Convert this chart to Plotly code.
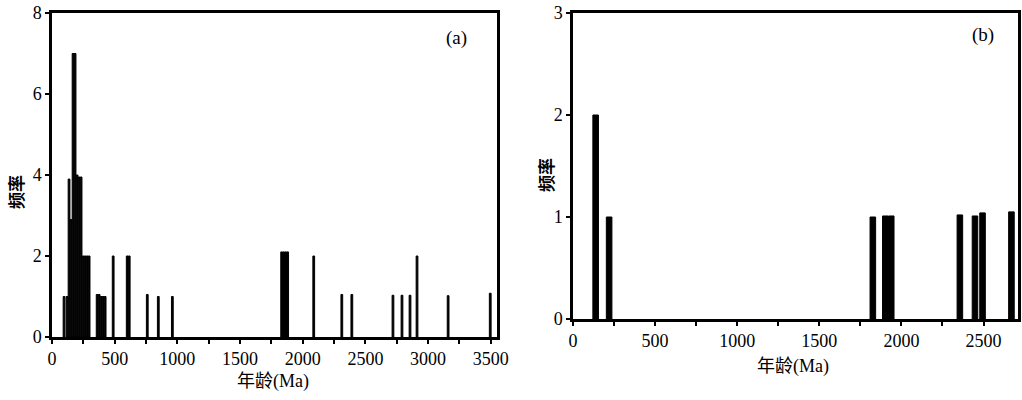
import plotly.graph_objects as go

# ---- Data: panel (a) ----
ages_a = [96, 120, 136, 152, 168, 184, 200, 216, 232, 248, 264, 280, 296,
          360, 376, 392, 408, 424, 488, 600, 616, 760, 848, 960,
          1832, 1848, 1864, 1880, 2088, 2312, 2392, 2720, 2792, 2856, 2912,
          3160, 3496]
freq_a = [1, 1, 3.9, 2.9, 7, 7, 4, 3.95, 3.95, 2, 2, 2, 2,
          1.05, 1.05, 1, 1, 1, 2, 2, 2, 1.05, 1, 1,
          2.1, 2.1, 2.1, 2.1, 2, 1.05, 1.05, 1.03, 1.03, 1.03, 2,
          1.02, 1.08]

# ---- Data: panel (b) ----
ages_b = [138, 220, 1826, 1902, 1938, 2356, 2448, 2494, 2670]
freq_b = [2, 1, 1.0, 1.01, 1.01, 1.02, 1.01, 1.04, 1.05]

xticks_a = list(range(0, 3501, 250))
xticks_b = list(range(0, 2501, 250))
yticks_a = [0, 2, 4, 6, 8]
yticks_b = [0, 1, 2, 3]

xlabel = "年龄(Ma)"
ylabel = "频率"

FONT = "Liberation Serif, Times New Roman, Noto Sans CJK SC, serif"
CJK = "Liberation Serif, Noto Sans CJK SC, sans-serif"

W, H = 1022, 400
L, R, T, B = 52, 4, 13, 63
PW, PH = W - L - R, H - T - B


def px(x):
    return (x - L) / PW


def py(y):
    return (H - B - y) / PH


fig = go.Figure()
fig.add_trace(go.Bar(x=ages_a, y=freq_a, width=14,
                     marker=dict(color="black", line=dict(width=1, color="black")),
                     xaxis="x", yaxis="y", showlegend=False))
fig.add_trace(go.Bar(x=ages_b, y=freq_b, width=34,
                     marker=dict(color="black", line=dict(width=1, color="black")),
                     xaxis="x2", yaxis="y2", showlegend=False))


def ticktext(vals):
    return [str(v) if v % 500 == 0 else "" for v in vals]


axis_common = dict(showgrid=False, zeroline=False, showline=True, linecolor="black",
                   linewidth=2.5, mirror=True, ticks="outside", ticklen=4, tickwidth=1.5,
                   tickcolor="black", automargin=False,
                   tickfont=dict(family=FONT, size=18, color="black"))

fig.update_layout(
    width=W, height=H,
    margin=dict(l=L, r=R, t=T, b=B, autoexpand=False),
    paper_bgcolor="white", plot_bgcolor="white",
    barmode="overlay",
    xaxis=dict(domain=[px(52), px(497)], range=[0, 3550], tickmode="array",
               tickvals=xticks_a, ticktext=ticktext(xticks_a), anchor="y", **axis_common),
    yaxis=dict(domain=[py(337), py(13)], range=[0, 8], tickmode="array",
               tickvals=yticks_a, anchor="x", **axis_common),
    xaxis2=dict(domain=[px(573), px(1018)], range=[0, 2710], tickmode="array",
                tickvals=xticks_b, ticktext=ticktext(xticks_b), anchor="y2", **axis_common),
    yaxis2=dict(domain=[py(319), py(13)], range=[0, 3], tickmode="array",
                tickvals=yticks_b, anchor="x2", **axis_common),
    font=dict(family=FONT, color="black"),
)

ann = [
    dict(text=xlabel, x=px(273), y=py(381), font=dict(family=CJK, size=18, color="black")),
    dict(text=xlabel, x=px(793), y=py(366), font=dict(family=CJK, size=18, color="black")),
    dict(text="<b>" + ylabel + "</b>", x=px(15), y=py(192), textangle=-90,
         font=dict(family="Noto Sans CJK SC", size=17, color="black")),
    dict(text="<b>" + ylabel + "</b>", x=px(545), y=py(175), textangle=-90,
         font=dict(family="Noto Sans CJK SC", size=17, color="black")),
    dict(text="(a)", x=px(456), y=py(38), font=dict(family=FONT, size=19, color="black")),
    dict(text="(b)", x=px(983), y=py(35), font=dict(family=FONT, size=19, color="black")),
]
for a in ann:
    a.update(xref="paper", yref="paper", showarrow=False, xanchor="center", yanchor="middle")
fig.update_layout(annotations=ann)

fig.write_html("out.html", config={"displayModeBar": False},
               post_script="document.body.style.margin='0';document.body.style.overflow='hidden';")
